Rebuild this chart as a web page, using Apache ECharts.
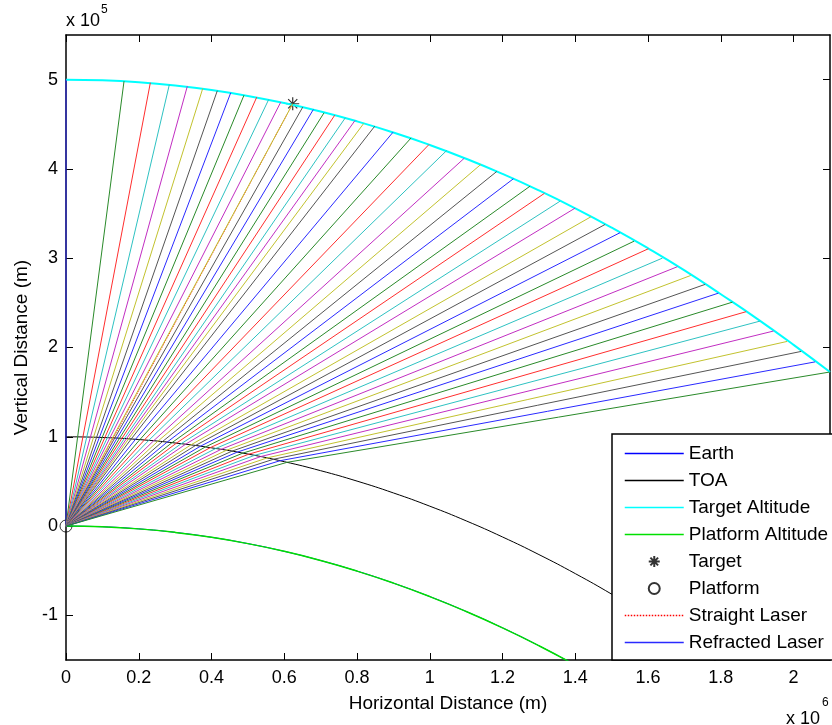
<!DOCTYPE html>
<html>
<head>
<meta charset="utf-8">
<script src="https://cdn.jsdelivr.net/npm/echarts@6/dist/echarts.min.js"></script>
<style>
  html, body { margin: 0; padding: 0; background: #ffffff; }
  #chart { width: 832px; height: 725px; }
</style>
</head>
<body>
<div id="chart"></div>
<script>
// ---- axis ticks (metres) and their printed labels ----
const xTicks = [0, 200000, 400000, 600000, 800000, 1000000, 1200000, 1400000, 1600000, 1800000, 2000000];
const xTickLabels = ['0', '0.2', '0.4', '0.6', '0.8', '1', '1.2', '1.4', '1.6', '1.8', '2'];
const yTicks = [-100000, 0, 100000, 200000, 300000, 400000, 500000];
const yTickLabels = ['-1', '0', '1', '2', '3', '4', '5'];

// ---- horizontal stations for the altitude shells (metres) ----
const curveX = [0, 100000, 200000, 300000, 400000, 500000, 600000, 700000, 800000, 900000, 1000000,
  1100000, 1200000, 1300000, 1400000, 1500000, 1600000, 1700000, 1800000, 1900000, 2000000, 2100000];

// Earth surface, top of atmosphere (100 km) and target altitude (500 km) heights at each station
const earthY = [0, -785, -3139, -7068, -12570, -19650, -28316, -38572, -50426, -63886, -78963,
  -95670, -114014, -134013, -155679];
const platformY = [0, -785, -3139, -7068, -12570, -19650, -28316, -38572, -50426, -63886, -78963,
  -95670, -114014, -134013, -155679];
const toaY = [100000, 99227, 96909, 93042, 87625, 80654, 72124, 62028, 50360, 37110, 22271,
  5831, -12238, -31930, -53273, -76288, -100992, -127322, -155309];
const targetAltY = [500000, 499272, 497089, 493448, 488347, 481784, 473753, 464250, 453268, 440801, 426841,
  411378, 394401, 375898, 355861, 334272, 311116, 286379, 259641, 232088, 203000, 172500];

// ---- platform and target positions ----
const platformPos = [0, 0];
const targetPos = [623200, 473000];

// ---- laser fan: where each ray leaves the atmosphere and where it reaches the target shell ----
const rayToaX = [0, 32000, 46500, 57100, 67100, 75800, 84100, 91800, 99400, 106700, 113700,
  120800, 127700, 134000, 140400, 147100, 153600, 160200, 166300, 172100, 179200,
  191100, 203000, 215400, 227500, 240800, 252700, 265000, 278000, 291400, 303500,
  316600, 328700, 343100, 355700, 369600, 383300, 396600, 411600, 426500, 441300,
  456300, 470800, 486200, 502200, 518400, 535300, 553000, 570400, 588600, 608000];
const rayToaY = [100000, 99920, 99830, 99750, 99650, 99560, 99450, 99350, 99240, 99120, 99000,
  98870, 98740, 98610, 98480, 98330, 98180, 98020, 97860, 97710, 97520,
  97180, 96820, 96420, 96000, 95520, 95070, 94570, 94030, 93440, 92880,
  92250, 91650, 90900, 90220, 89440, 88650, 87850, 86910, 85940, 84950,
  83910, 82870, 81730, 80510, 79240, 77860, 76370, 74860, 73230, 71440];
const rayEndX = [0, 159500, 231800, 284000, 333500, 375800, 415900, 452800, 489300, 524300, 557200,
  590200, 623200, 650700, 679900, 709300, 738700, 767800, 794500, 818400, 848700,
  899000, 948500, 997900, 1046600, 1094200, 1140100, 1184100, 1229700, 1275600, 1314900,
  1358100, 1399300, 1443300, 1481800, 1523000, 1561500, 1600800, 1639300, 1680600, 1717400,
  1756700, 1793300, 1831800, 1869400, 1907900, 1944500, 1982100, 2020600, 2059100, 2099000];
const rayEndY = [500000, 498300, 496500, 494300, 492700, 490100, 487600, 485300, 482600, 480400, 477800,
  474800, 473000, 469200, 466600, 462900, 460200, 457300, 454300, 451000, 447900,
  441200, 434700, 427400, 420700, 411800, 405000, 397200, 389000, 380700, 372600,
  363900, 356100, 346500, 337800, 328600, 319100, 310600, 300100, 290500, 280700,
  270700, 260900, 250800, 240100, 229600, 218400, 206800, 195600, 183900, 172500];

// colour order cycled through by the rays
const rayColors = ['#2a2aff', '#2a8a2a', '#ff2e2e', '#2ec2c2', '#c22ec2', '#c2c22e', '#555555'];

const FONT = '"Liberation Sans", Arial, sans-serif';

// legend entries; line entries hide the marker dot so only the line sample shows
const lineOnly = { opacity: 0 };
const legendEntries = [
  { name: 'Earth', itemStyle: lineOnly },
  { name: 'TOA', itemStyle: lineOnly },
  { name: 'Target Altitude', itemStyle: lineOnly },
  { name: 'Platform Altitude', itemStyle: lineOnly },
  { name: 'Target' },
  { name: 'Platform' },
  { name: 'Straight Laser', itemStyle: lineOnly },
  { name: 'Refracted Laser', itemStyle: lineOnly }
];

function pairs(xs, ys) {
  return ys.map((y, i) => [xs[i], y]);
}
function labelFor(ticks, labels) {
  return v => {
    const i = ticks.findIndex(t => Math.abs(t - v) < 1);
    return i >= 0 ? labels[i] : '';
  };
}

const series = [];

series.push({
  name: 'Earth', type: 'line', symbol: 'none', smooth: true, silent: true,
  data: pairs(curveX, earthY),
  lineStyle: { color: '#0000ff', width: 1 }, itemStyle: { color: '#0000ff' }
});
series.push({
  name: 'TOA', type: 'line', symbol: 'none', smooth: true, silent: true,
  data: pairs(curveX, toaY),
  lineStyle: { color: '#000000', width: 1 }, itemStyle: { color: '#000000' }
});
series.push({
  name: 'Target Altitude', type: 'line', symbol: 'none', smooth: true, silent: true,
  data: pairs(curveX, targetAltY),
  lineStyle: { color: '#00ffff', width: 2 }, itemStyle: { color: '#00ffff' }
});
series.push({
  name: 'Platform Altitude', type: 'line', symbol: 'none', smooth: true, silent: true,
  data: pairs(curveX, platformY),
  lineStyle: { color: '#00e000', width: 1.5 }, itemStyle: { color: '#00e000' }
});
series.push({
  name: 'Straight Laser', type: 'line', symbol: 'none', silent: true,
  data: [platformPos, targetPos],
  lineStyle: { color: '#ff0000', width: 1, type: 'dotted' }, itemStyle: { color: '#ff0000' }
});

// refracted rays: platform -> exit point at the top of the atmosphere -> target shell
rayEndX.forEach((ex, k) => {
  const c = rayColors[k % rayColors.length];
  series.push({
    name: 'Refracted Laser', type: 'line', symbol: 'none', silent: true,
    data: [platformPos, [rayToaX[k], rayToaY[k]], [ex, rayEndY[k]]],
    lineStyle: { color: c, width: 1 }, itemStyle: { color: c }
  });
});

series.push({
  name: 'Target', type: 'scatter', silent: true,
  symbol: 'path://M0,-6L0,6M-6,0L6,0M-4.2,-4.2L4.2,4.2M-4.2,4.2L4.2,-4.2',
  symbolSize: 13,
  data: [targetPos],
  itemStyle: { color: 'rgba(0,0,0,0)', borderColor: '#000000', borderWidth: 1.2 }
});
series.push({
  name: 'Platform', type: 'scatter', silent: true,
  symbol: 'circle', symbolSize: 12,
  data: [platformPos],
  itemStyle: { color: 'rgba(0,0,0,0)', borderColor: '#000000', borderWidth: 1 }
});

const axisLineStyle = { color: '#000000', width: 1.5 };
const tickStyle = { color: '#000000', width: 1 };
const labelStyle = { color: '#000000', fontFamily: FONT, fontSize: 18 };

const option = {
  animation: false,
  backgroundColor: '#ffffff',
  grid: { left: 66, top: 35, width: 764, height: 625, containLabel: false, outerBoundsMode: 'none' },
  xAxis: [
    {
      type: 'value', position: 'bottom', min: 0, max: 2100000,
      axisLine: { show: true, onZero: false, lineStyle: axisLineStyle },
      axisTick: { show: true, inside: true, length: 7, customValues: xTicks, lineStyle: tickStyle },
      axisLabel: Object.assign({ customValues: xTicks, margin: 9, formatter: labelFor(xTicks, xTickLabels) }, labelStyle),
      splitLine: { show: false },
      name: 'Horizontal Distance (m)', nameLocation: 'middle', nameGap: 34,
      nameTextStyle: { color: '#000000', fontFamily: FONT, fontSize: 19 }
    },
    {
      type: 'value', position: 'top', min: 0, max: 2100000,
      axisLine: { show: true, onZero: false, lineStyle: axisLineStyle },
      axisTick: { show: true, inside: true, length: 7, customValues: xTicks, lineStyle: tickStyle },
      axisLabel: { show: false },
      splitLine: { show: false }
    }
  ],
  yAxis: [
    {
      type: 'value', position: 'left', min: -150000, max: 550000,
      axisLine: { show: true, onZero: false, lineStyle: axisLineStyle },
      axisTick: { show: true, inside: true, length: 7, customValues: yTicks, lineStyle: tickStyle },
      axisLabel: Object.assign({ customValues: yTicks, margin: 8, formatter: labelFor(yTicks, yTickLabels) }, labelStyle),
      splitLine: { show: false },
      name: 'Vertical Distance (m)', nameLocation: 'middle', nameGap: 33,
      nameTextStyle: { color: '#000000', fontFamily: FONT, fontSize: 19 }
    },
    {
      type: 'value', position: 'right', min: -150000, max: 550000,
      axisLine: { show: true, onZero: false, lineStyle: axisLineStyle },
      axisTick: { show: true, inside: true, length: 7, customValues: yTicks, lineStyle: tickStyle },
      axisLabel: { show: false },
      splitLine: { show: false }
    }
  ],
  legend: {
    orient: 'vertical', left: 612, top: 434,
    padding: [10, 30, 8, 12],
    itemWidth: 59, itemHeight: 11, itemGap: 8,
    backgroundColor: '#ffffff', borderColor: '#000000', borderWidth: 1.5, borderRadius: 0,
    selectedMode: false,
    lineStyle: { width: 1.5 },
    textStyle: { color: '#000000', fontFamily: FONT, fontSize: 19, lineHeight: 19 },
    data: legendEntries
  },
  graphic: [
    { type: 'text', x: 66, y: 21, style: { text: 'x 10', font: '18px ' + FONT, fill: '#000', verticalAlign: 'middle', align: 'left' } },
    { type: 'text', x: 101, y: 10, style: { text: '5', font: '12px ' + FONT, fill: '#000', verticalAlign: 'middle', align: 'left' } },
    { type: 'text', x: 786, y: 719, style: { text: 'x 10', font: '18px ' + FONT, fill: '#000', verticalAlign: 'middle', align: 'left' } },
    { type: 'text', x: 822, y: 703, style: { text: '6', font: '12px ' + FONT, fill: '#000', verticalAlign: 'middle', align: 'left' } }
  ],
  series: series
};

const chart = echarts.init(document.getElementById('chart'), null, { renderer: 'canvas' });
chart.setOption(option);
</script>
</body>
</html>
